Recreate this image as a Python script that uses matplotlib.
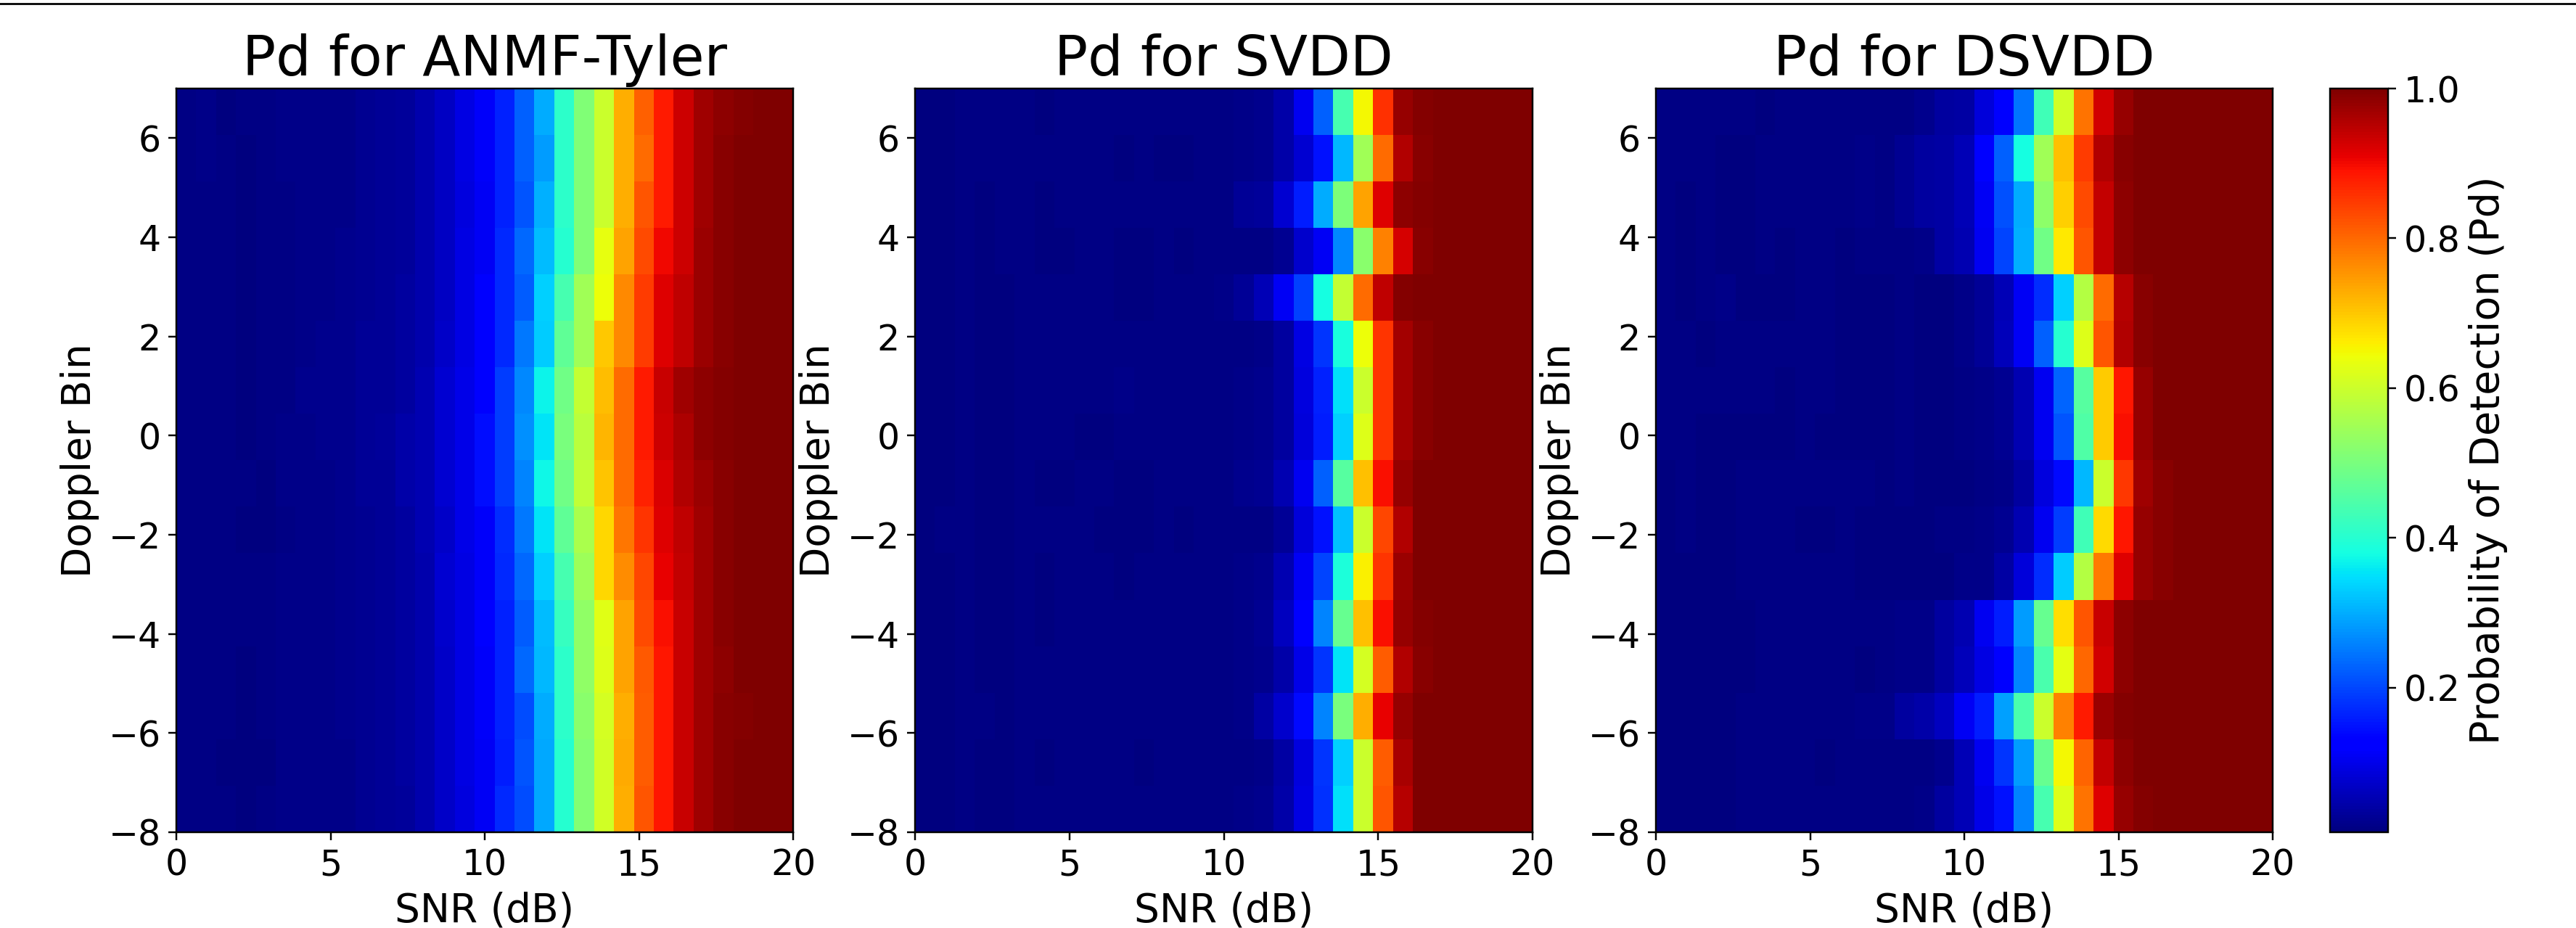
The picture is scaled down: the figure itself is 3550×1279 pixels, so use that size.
import numpy as np
import matplotlib
matplotlib.use("Agg")
import matplotlib.pyplot as plt
from matplotlib.lines import Line2D

W, H, DPI = 3550, 1279, 220
titles = ["Pd for ANMF-Tyler", "Pd for SVDD", "Pd for DSVDD"]
xlabel = "SNR (dB)"
ylabel = "Doppler Bin"
cbar_label = "Probability of Detection (Pd)"
x_ticks = [0, 5, 10, 15, 20]
y_ticks = [-8, -6, -4, -2, 0, 2, 4, 6]
extent = [0, 20, -8, 7]
vmin, vmax = 0.007, 1.0

# each inner list is one SNR column, top row to bottom row
anmf_cols = [
[.014,.013,.012,.012,.012,.012,.013,.013,.012,.012,.012,.012,.012,.012,.012,.012],
[.016,.015,.012,.012,.012,.012,.012,.013,.012,.012,.012,.012,.012,.012,.013,.012],
[.010,.011,.011,.011,.011,.011,.012,.012,.011,.011,.012,.012,.012,.012,.009,.012],
[.011,.010,.010,.010,.010,.010,.008,.010,.011,.010,.011,.011,.009,.010,.010,.009],
[.014,.014,.013,.013,.013,.013,.014,.014,.010,.010,.013,.013,.014,.014,.009,.014],
[.015,.015,.014,.014,.014,.014,.014,.015,.015,.013,.015,.015,.015,.015,.015,.015],
[.016,.016,.016,.016,.016,.016,.020,.018,.017,.016,.016,.016,.017,.016,.016,.016],
[.018,.018,.017,.017,.018,.021,.021,.019,.018,.017,.018,.018,.018,.018,.017,.017],
[.017,.017,.018,.019,.020,.021,.022,.021,.019,.019,.019,.019,.020,.020,.018,.018],
[.024,.023,.023,.024,.025,.027,.028,.029,.029,.024,.024,.025,.025,.025,.024,.024],
[.028,.028,.027,.028,.030,.030,.030,.032,.030,.030,.029,.029,.029,.029,.030,.030],
[.032,.033,.033,.033,.035,.035,.037,.042,.043,.038,.036,.036,.036,.036,.035,.032],
[.046,.046,.046,.047,.048,.049,.052,.053,.053,.050,.048,.047,.047,.047,.047,.047],
[.066,.066,.066,.067,.068,.072,.078,.080,.080,.070,.080,.076,.072,.070,.070,.070],
[.093,.093,.092,.093,.095,.096,.099,.100,.100,.097,.095,.095,.094,.094,.093,.092],
[.115,.115,.108,.110,.125,.130,.135,.145,.143,.112,.112,.120,.112,.112,.110,.110],
[.165,.165,.165,.170,.170,.170,.190,.190,.190,.175,.170,.165,.165,.165,.160,.170],
[.228,.228,.215,.235,.222,.248,.265,.272,.260,.248,.235,.222,.235,.205,.215,.205],
[.300,.285,.305,.315,.335,.330,.370,.355,.375,.355,.335,.315,.310,.300,.295,.295],
[.410,.410,.410,.400,.440,.470,.490,.500,.490,.470,.440,.420,.410,.410,.400,.400],
[.510,.510,.510,.510,.550,.550,.590,.580,.585,.560,.545,.530,.530,.520,.515,.515],
[.600,.600,.600,.635,.640,.700,.710,.720,.705,.685,.685,.625,.620,.610,.605,.605],
[.725,.725,.725,.740,.767,.767,.797,.797,.795,.785,.760,.737,.740,.725,.730,.725],
[.807,.797,.818,.830,.845,.845,.880,.880,.875,.855,.837,.830,.815,.810,.810,.820],
[.880,.880,.882,.900,.917,.917,.937,.933,.920,.915,.910,.895,.885,.885,.885,.885],
[.934,.934,.934,.934,.945,.945,.970,.960,.955,.945,.940,.935,.935,.935,.935,.935],
[.970,.970,.970,.975,.975,.975,.985,.985,.975,.972,.970,.970,.970,.970,.970,.970],
[.985,.990,.990,.990,.990,.992,.995,.995,.992,.990,.990,.990,.985,.990,.990,.990],
[.996,.997,.997,.997,.997,.998,.998,.998,.998,.998,.998,.997,.997,.995,.997,.997],
[.998,.998,.998,.998,.998,.998,.999,.999,.999,.999,.999,.998,.998,.998,.998,.998],
[.999,.999,.999,.999,.999,.999,1.00,1.00,1.00,1.00,1.00,.999,.999,.999,.999,.999],
]

svdd_cols = [
[.010,.009,.009,.009,.009,.009,.010,.010,.009,.009,.009,.009,.009,.009,.009,.009],
[.010,.010,.010,.010,.010,.010,.010,.010,.010,.011,.010,.010,.010,.010,.010,.010],
[.012,.012,.012,.012,.012,.012,.011,.012,.012,.012,.012,.012,.012,.012,.012,.012],
[.012,.012,.010,.010,.010,.010,.010,.010,.010,.010,.010,.010,.010,.012,.010,.010],
[.011,.011,.011,.011,.010,.010,.010,.010,.010,.010,.010,.010,.010,.010,.010,.010],
[.012,.012,.014,.012,.012,.012,.014,.012,.012,.012,.012,.012,.012,.012,.012,.012],
[.010,.011,.010,.010,.011,.011,.012,.012,.010,.011,.010,.010,.011,.011,.010,.011],
[.012,.012,.012,.010,.012,.012,.012,.012,.010,.012,.012,.012,.012,.012,.012,.012],
[.012,.012,.012,.011,.011,.012,.012,.010,.011,.012,.011,.011,.011,.011,.011,.011],
[.012,.012,.013,.013,.012,.012,.013,.010,.012,.010,.012,.011,.011,.011,.011,.011],
[.012,.009,.011,.010,.010,.012,.016,.011,.009,.010,.010,.011,.011,.011,.012,.011],
[.011,.011,.011,.009,.010,.011,.011,.011,.010,.010,.011,.011,.011,.011,.009,.011],
[.012,.009,.012,.012,.012,.011,.011,.012,.014,.012,.012,.012,.012,.012,.012,.012],
[.011,.010,.012,.010,.012,.011,.011,.012,.012,.010,.011,.011,.012,.012,.012,.012],
[.012,.011,.012,.011,.014,.012,.011,.012,.014,.011,.012,.012,.012,.014,.011,.012],
[.014,.012,.013,.012,.018,.012,.013,.014,.014,.012,.013,.014,.014,.014,.012,.012],
[.018,.016,.027,.013,.030,.012,.016,.016,.022,.014,.016,.018,.016,.018,.014,.016],
[.020,.020,.033,.012,.055,.015,.020,.020,.025,.012,.020,.025,.020,.040,.015,.020],
[.045,.045,.078,.025,.110,.035,.035,.035,.050,.030,.050,.065,.045,.075,.040,.045],
[.105,.078,.160,.075,.195,.095,.090,.085,.105,.085,.110,.125,.100,.140,.090,.095],
[.225,.150,.300,.110,.380,.185,.165,.160,.225,.150,.200,.260,.185,.260,.185,.180],
[.440,.310,.505,.265,.590,.385,.350,.335,.460,.320,.390,.480,.355,.500,.335,.350],
[.650,.550,.740,.520,.797,.640,.600,.620,.708,.600,.655,.708,.610,.725,.600,.600],
[.860,.797,.915,.775,.945,.855,.855,.855,.895,.835,.855,.895,.810,.907,.810,.820],
[.978,.955,.985,.925,.995,.967,.967,.967,.980,.955,.975,.980,.955,.980,.965,.950],
[.995,.990,.995,.990,.998,.990,.990,.990,.998,.998,.998,.995,.990,.998,.998,.998],
[.999,.999,.999,.999,.999,.999,.999,.999,.999,.999,.999,.999,.999,.999,.999,.999],
[1.00,1.00,1.00,1.00,1.00,1.00,1.00,1.00,1.00,1.00,1.00,1.00,1.00,1.00,1.00,1.00],
[1.00,1.00,1.00,1.00,1.00,1.00,1.00,1.00,1.00,1.00,1.00,1.00,1.00,1.00,1.00,1.00],
[1.00,1.00,1.00,1.00,1.00,1.00,1.00,1.00,1.00,1.00,1.00,1.00,1.00,1.00,1.00,1.00],
[1.00,1.00,1.00,1.00,1.00,1.00,1.00,1.00,1.00,1.00,1.00,1.00,1.00,1.00,1.00,1.00],
]

dsvdd_cols = [
[.012,.012,.012,.012,.012,.012,.012,.012,.009,.009,.009,.009,.009,.010,.010,.010],
[.012,.013,.009,.009,.009,.012,.011,.011,.011,.011,.010,.010,.010,.010,.009,.008],
[.012,.012,.011,.012,.012,.009,.011,.010,.009,.009,.010,.010,.010,.010,.010,.010],
[.011,.009,.009,.009,.016,.011,.011,.010,.009,.009,.010,.010,.010,.010,.009,.009],
[.011,.008,.008,.008,.010,.011,.011,.010,.011,.011,.011,.010,.010,.011,.011,.011],
[.010,.012,.012,.012,.010,.011,.011,.009,.011,.011,.011,.011,.011,.011,.011,.011],
[.012,.012,.012,.010,.010,.011,.009,.009,.011,.011,.012,.012,.012,.012,.012,.012],
[.012,.012,.012,.012,.012,.012,.012,.012,.012,.010,.012,.012,.012,.012,.012,.012],
[.011,.011,.011,.011,.011,.011,.011,.009,.011,.009,.011,.011,.011,.011,.008,.011],
[.011,.012,.012,.010,.009,.010,.009,.010,.012,.011,.011,.011,.011,.012,.011,.011],
[.012,.016,.015,.012,.010,.010,.007,.007,.012,.008,.010,.012,.010,.016,.012,.012],
[.012,.014,.014,.012,.010,.010,.010,.010,.010,.009,.010,.013,.013,.016,.013,.013],
[.014,.025,.025,.014,.012,.012,.012,.012,.012,.010,.010,.015,.015,.035,.014,.014],
[.020,.035,.035,.015,.008,.008,.007,.007,.007,.007,.007,.015,.015,.045,.014,.018],
[.035,.040,.040,.040,.010,.010,.010,.009,.008,.012,.009,.035,.035,.065,.020,.035],
[.040,.055,.055,.050,.018,.015,.012,.012,.008,.012,.015,.050,.060,.110,.055,.055],
[.085,.120,.110,.105,.030,.030,.018,.015,.013,.018,.018,.105,.095,.160,.105,.100],
[.135,.225,.210,.200,.055,.060,.025,.025,.018,.025,.040,.160,.135,.290,.185,.150],
[.245,.380,.300,.305,.110,.110,.050,.050,.035,.050,.085,.285,.260,.445,.285,.260],
[.430,.550,.525,.490,.175,.225,.105,.105,.090,.105,.175,.480,.445,.600,.480,.440],
[.605,.708,.690,.665,.335,.400,.230,.215,.140,.190,.330,.675,.630,.775,.650,.620],
[.790,.845,.830,.820,.570,.620,.460,.450,.310,.430,.570,.820,.800,.880,.805,.790],
[.930,.955,.940,.940,.795,.820,.695,.695,.600,.680,.780,.935,.930,.975,.940,.915],
[.980,.990,.985,.985,.950,.955,.885,.895,.850,.885,.915,.985,.985,.995,.985,.980],
[.998,.998,.998,.998,.990,.990,.980,.980,.970,.980,.980,.998,.998,.998,.998,.996],
[1.00,1.00,1.00,1.00,.999,.999,.999,.999,.990,.990,.990,1.00,1.00,1.00,1.00,1.00],
[1.00,1.00,1.00,1.00,1.00,1.00,1.00,1.00,1.00,1.00,1.00,1.00,1.00,1.00,1.00,1.00],
[1.00,1.00,1.00,1.00,1.00,1.00,1.00,1.00,1.00,1.00,1.00,1.00,1.00,1.00,1.00,1.00],
[1.00,1.00,1.00,1.00,1.00,1.00,1.00,1.00,1.00,1.00,1.00,1.00,1.00,1.00,1.00,1.00],
[1.00,1.00,1.00,1.00,1.00,1.00,1.00,1.00,1.00,1.00,1.00,1.00,1.00,1.00,1.00,1.00],
[1.00,1.00,1.00,1.00,1.00,1.00,1.00,1.00,1.00,1.00,1.00,1.00,1.00,1.00,1.00,1.00],
]

panels = [anmf_cols, svdd_cols, dsvdd_cols]
ax_px = [(243, 1093), (1261, 2112), (2282, 3132)]
top_px, bot_px = 122, 1147
cb_px = (3211, 3291)

def rect(x0, x1):
    return [x0 / W, 1 - bot_px / H, (x1 - x0) / W, (bot_px - top_px) / H]

fig = plt.figure(figsize=(W / DPI, H / DPI), dpi=DPI)
fig.add_artist(Line2D([0, 1], [1 - 5 / H, 1 - 5 / H], color="black", lw=0.9,
                      transform=fig.transFigure))
for cols, title, (x0, x1) in zip(panels, titles, ax_px):
    ax = fig.add_axes(rect(x0, x1))
    Z = np.array(cols).T
    im = ax.imshow(Z, cmap="jet", aspect="auto", origin="upper", extent=extent,
                   vmin=vmin, vmax=vmax, interpolation="nearest")
    ax.set_title(title, fontsize=25, pad=6)
    ax.set_xlabel(xlabel, fontsize=18, labelpad=4)
    ax.set_ylabel(ylabel, fontsize=18, labelpad=4)
    ax.set_xticks(x_ticks)
    ax.set_yticks(y_ticks)
    ax.tick_params(labelsize=16)

cax = fig.add_axes(rect(*cb_px))
cb = fig.colorbar(im, cax=cax)
cb.set_ticks([0.2, 0.4, 0.6, 0.8, 1.0])
cb.ax.tick_params(labelsize=16)
cb.set_label(cbar_label, fontsize=18.2, labelpad=4)
fig.savefig("out.png", dpi=DPI)
